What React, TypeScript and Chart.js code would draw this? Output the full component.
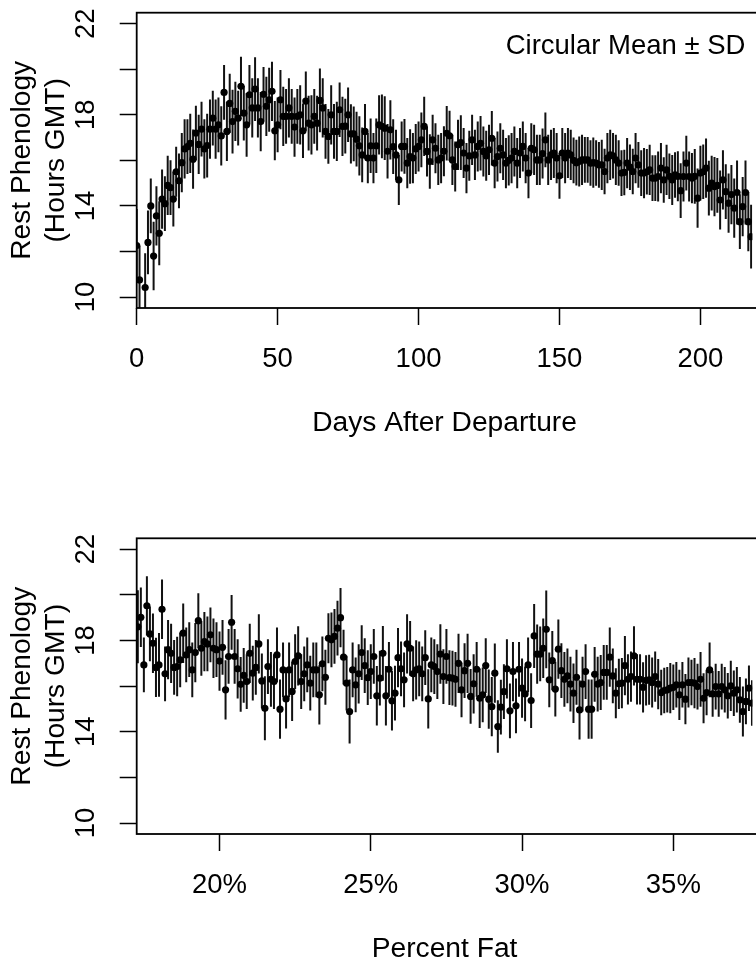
import React, { useEffect, useRef } from 'react';
import { Chart, registerables } from 'chart.js';
Chart.register(...registerables);

const FONT = '"Liberation Sans", Arial, Helvetica, sans-serif';
const FS = 27.5;
const FS_TITLE = 28.2;

// Top panel: circular mean rest time by day after departure (index = day)
const dayMeans: (number | null)[] = [
  12.26, 10.75, null, 10.42, 12.4, 14.0, 11.8, 13.56, 12.8, 14.3,
  14.1, 14.9, 14.8, 14.3, 15.5, 15.1, 15.9, 16.5, 16.6, 16.75,
  16.05, 17.2, 16.7, 17.37, 16.5, 16.65, 17.37, 17.85, 17.37, 17.56,
  17.07, 18.98, 17.27, 18.5, 17.7, 18.15, 17.85, 19.25, 18.07, 17.56,
  18.88, 18.3, 19.13, 18.3, 17.7, 18.9, 18.37, 18.66, 19.03, 17.3,
  17.56, 18.66, 17.93, 17.93, 18.3, 17.93, 17.46, 17.93, 18.0, 17.3,
  18.6, 17.63, 17.56, 17.93, 17.63, 18.63, 18.3, 17.27, 17.05, 18.0,
  17.27, 17.27, 18.22, 17.49, 17.5, 18.0, 17.16, 17.16, 16.93, 16.64,
  16.24, 17.27, 16.1, 16.64, 16.1, 16.64, 17.56, 17.49, 17.41, 16.4,
  17.34, 16.6, 16.24, 15.14, 16.61, 16.61, 15.88, 16.17, 16.1, 16.5,
  16.61, 16.9, 17.49, 16.39, 15.95, 16.9, 16.53, 16.02, 16.1, 16.4,
  17.19, 17.08, 16.02, 15.73, 16.68, 16.78, 16.32, 15.66, 16.2, 16.9,
  16.24, 16.61, 16.75, 16.39, 16.2, 16.46, 16.97, 15.88, 16.17, 16.53,
  16.24, 15.88, 16.0, 16.1, 16.39, 15.88, 16.32, 16.61, 16.1, 15.44,
  16.53, 16.46, 16.02, 16.02, 16.3, 16.9, 16.02, 16.24, 16.32, 16.1,
  15.32, 16.32, 16.1, 16.32, 16.24, 16.0, 15.9, 15.95, 16.02, 16.02,
  16.02, 15.88, 15.9, 15.88, 15.8, 15.8, 15.51, 16.1, 16.24, 16.2,
  16.02, 15.88, 15.44, 15.47, 15.88, 15.7, 15.51, 16.1, 15.8, 15.44,
  15.44, 15.5, 15.58, 15.22, 15.22, 15.29, 15.66, 15.14, 15.58, 15.3,
  15.14, 15.36, 15.3, 14.67, 15.29, 15.88, 15.29, 15.22, 15.3, 14.34,
  15.44, 15.5, 15.66, 14.78, 15.0, 14.85, 14.9, 14.26, 15.14, 14.63,
  14.12, 14.5, 13.9, 14.59, 13.31, 13.97, 14.59, 13.31, 12.65,
];
const daySDs: number[] = [
  1.6, 1.5, 1.4, 1.5, 1.4, 1.2, 1.5, 1.3, 1.4, 1.3,
  1.2, 1.3, 1.2, 1.2, 1.1, 1.2, 1.3, 1.3, 1.2, 1.3,
  1.3, 1.2, 1.3, 1.2, 1.3, 1.4, 1.3, 1.2, 1.3, 1.2,
  1.3, 1.2, 1.3, 1.3, 1.4, 1.3, 1.2, 1.3, 1.2, 1.4,
  1.3, 1.3, 1.4, 1.3, 1.3, 1.2, 1.3, 1.4, 1.3, 1.3,
  1.2, 1.3, 1.3, 1.2, 1.3, 1.2, 1.3, 1.2, 1.3, 1.2,
  1.3, 1.2, 1.3, 1.2, 1.2, 1.4, 1.3, 1.2, 1.2, 1.3,
  1.2, 1.3, 1.2, 1.3, 1.2, 1.2, 1.3, 1.2, 1.2, 1.3,
  1.2, 1.2, 1.1, 1.2, 1.1, 1.2, 1.3, 1.4, 1.4, 1.2,
  1.3, 1.2, 1.1, 1.1, 1.1, 1.2, 1.1, 1.2, 1.1, 1.1,
  1.1, 1.2, 1.3, 1.1, 1.2, 1.1, 1.1, 1.1, 1.1, 1.1,
  1.2, 1.1, 1.1, 1.1, 1.1, 1.2, 1.1, 1.1, 1.1, 1.1,
  1.1, 1.1, 1.2, 1.1, 1.1, 1.1, 1.2, 1.1, 1.1, 1.1,
  1.1, 1.1, 1.1, 1.1, 1.1, 1.1, 1.1, 1.1, 1.1, 1.1,
  1.1, 1.1, 1.1, 1.1, 1.1, 1.2, 1.1, 1.1, 1.1, 1.1,
  1.0, 1.1, 1.1, 1.1, 1.1, 1.0, 1.0, 1.1, 1.1, 1.0,
  1.0, 1.0, 1.1, 1.0, 1.0, 1.1, 1.0, 1.1, 1.1, 1.0,
  1.1, 1.0, 1.0, 1.0, 1.1, 1.0, 1.0, 1.1, 1.0, 1.0,
  1.1, 1.0, 1.1, 1.0, 1.0, 1.1, 1.1, 1.0, 1.1, 1.0,
  1.1, 1.0, 1.1, 1.2, 1.1, 1.2, 1.1, 1.1, 1.2, 1.3,
  1.2, 1.2, 1.3, 1.2, 1.2, 1.3, 1.2, 1.3, 1.3, 1.2,
  1.3, 1.3, 1.3, 1.4, 1.2, 1.3, 1.4, 1.3, 1.4,
];

// Bottom panel: by percent fat, from 17.3% in steps of 0.1%
const FAT_START = 17.3;
const FAT_STEP = 0.1;
const fatMeans: number[] = [
  18.6, 19.02, 16.93, 19.52, 18.29, 17.88, 16.82, 16.93, 19.37, 16.54,
  17.6, 17.44, 16.82, 16.86, 17.15, 18.32, 17.37, 17.6, 16.71, 17.47,
  18.87, 17.66, 17.95, 17.85, 18.25, 17.66, 17.6, 17.1, 17.7, 15.84,
  17.3, 18.8, 17.3, 16.76, 16.08, 16.47, 16.2, 17.44, 16.57, 16.82,
  17.85, 16.23, 15.03, 16.86, 16.3, 16.2, 17.37, 14.99, 16.71, 15.44,
  16.71, 15.77, 17.08, 17.33, 16.2, 16.54, 16.93, 16.13, 16.71, 16.71,
  15.62, 16.98, 16.39, 18.1, 18.03, 18.18, 18.54, 19.0, 17.27, 16.13,
  14.89, 16.71, 16.06, 16.54, 17.47, 16.9, 16.37, 16.64, 17.3, 15.58,
  16.35, 17.44, 15.58, 16.74, 15.36, 15.69, 17.25, 16.76, 16.28, 17.85,
  17.66, 16.54, 16.71, 16.76, 16.54, 17.25, 15.44, 16.93, 16.86, 16.64,
  17.41, 16.42, 17.3, 16.37, 16.35, 16.3, 17.0, 15.84, 16.68, 17.0,
  15.55, 16.1, 16.74, 15.47, 15.62, 16.9, 15.43, 15.1, 16.57, 14.23,
  15.08, 15.76, 16.76, 14.92, 16.64, 15.14, 16.74, 15.91, 15.66, 16.93,
  15.37, 18.2, 17.4, 17.41, 17.66, 18.49, 16.28, 17.12, 15.87, 17.62,
  16.68, 16.3, 16.45, 16.09, 15.69, 16.39, 14.96, 16.09, 16.64, 14.99,
  14.99, 16.52, 16.09, 16.16, 16.6, 16.6, 17.27, 16.45, 15.69, 16.1,
  16.13, 16.9, 16.3, 16.42, 17.33, 16.3, 16.3, 15.95, 16.25, 16.28,
  16.16, 16.42, 16.09, 15.72, 15.81, 15.84, 15.91, 15.95, 16.06, 15.62,
  16.06, 15.43, 16.16, 16.16, 16.13, 15.98, 16.3, 15.47, 15.72, 16.71,
  15.66, 15.98, 15.66, 15.98, 15.84, 15.58, 16.01, 15.69, 15.84, 15.4,
  14.89, 15.33, 15.91, 15.26,
];
const fatSDs: number[] = [
  1.6, 1.3, 1.2, 1.3, 1.2, 1.3, 1.3, 1.4, 1.3, 1.2,
  1.3, 1.3, 1.2, 1.3, 1.2, 1.3, 1.2, 1.2, 1.2, 1.3,
  1.2, 1.2, 1.3, 1.2, 1.2, 1.3, 1.2, 1.3, 1.2, 1.3,
  1.2, 1.2, 1.2, 1.3, 1.2, 1.2, 1.2, 1.3, 1.2, 1.2,
  1.3, 1.2, 1.4, 1.2, 1.2, 1.2, 1.2, 1.3, 1.2, 1.3,
  1.2, 1.3, 1.2, 1.3, 1.2, 1.2, 1.2, 1.2, 1.2, 1.2,
  1.3, 1.2, 1.2, 1.1, 1.2, 1.2, 1.2, 1.3, 1.2, 1.2,
  1.4, 1.2, 1.2, 1.3, 1.2, 1.2, 1.2, 1.2, 1.2, 1.3,
  1.2, 1.2, 1.3, 1.2, 1.3, 1.2, 1.3, 1.2, 1.2, 1.3,
  1.2, 1.2, 1.3, 1.2, 1.2, 1.2, 1.3, 1.2, 1.2, 1.2,
  1.3, 1.2, 1.2, 1.2, 1.2, 1.2, 1.3, 1.2, 1.2, 1.3,
  1.2, 1.3, 1.2, 1.3, 1.2, 1.2, 1.3, 1.3, 1.3, 1.15,
  1.2, 1.2, 1.3, 1.2, 1.3, 1.2, 1.2, 1.3, 1.2, 1.2,
  1.2, 1.4, 1.3, 1.2, 1.3, 1.7, 1.2, 1.3, 1.2, 1.3,
  1.2, 1.2, 1.2, 1.2, 1.3, 1.2, 1.3, 1.2, 1.2, 1.3,
  1.3, 1.2, 1.2, 1.2, 1.2, 1.2, 1.3, 1.2, 1.1, 1.1,
  1.1, 1.3, 1.1, 1.1, 1.3, 1.1, 1.1, 1.1, 1.1, 1.1,
  1.1, 1.1, 1.1, 1.0, 1.0, 1.0, 1.1, 1.0, 1.0, 1.1,
  1.0, 1.1, 1.1, 1.0, 1.1, 1.0, 1.2, 1.1, 1.0, 1.2,
  1.0, 1.0, 1.0, 1.0, 1.0, 1.0, 1.1, 1.0, 1.0, 1.0,
  1.1, 1.0, 1.0, 1.0,
];

const Y_TICK_LABELS = [10, 14, 18, 22];
const Y_MIN = 9.52;
const Y_MAX = 22.48;
const Y_TITLE = ['Rest Phenology', '(Hours GMT)'];

const dayPoints = dayMeans.map((m, i) => ({ x: i, y: m }));
const fatPoints = fatMeans.map((m, i) => ({ x: Math.round((FAT_START + i * FAT_STEP) * 10) / 10, y: m }));

const errorBarPlugin = {
  id: 'errorBars',
  beforeDatasetsDraw(chart: any, _args: any, opts: any) {
    const { ctx, chartArea, scales } = chart;
    const xs = scales.x, ys = scales.y;
    const pts = chart.data.datasets[0].data;
    const sds: number[] = opts.sds || [];
    ctx.save();
    ctx.beginPath();
    ctx.rect(chartArea.left, chartArea.top, chartArea.right - chartArea.left, chartArea.bottom - chartArea.top);
    ctx.clip();
    ctx.strokeStyle = '#111';
    ctx.lineWidth = 2;
    pts.forEach((p: any, i: number) => {
      if (p.y == null) return;
      const px = xs.getPixelForValue(p.x);
      ctx.beginPath();
      ctx.moveTo(px, ys.getPixelForValue(p.y + sds[i]));
      ctx.lineTo(px, ys.getPixelForValue(p.y - sds[i]));
      ctx.stroke();
    });
    ctx.restore();
  },
};

const framePlugin = {
  id: 'frame',
  afterDatasetsDraw(chart: any, _args: any, opts: any) {
    const { ctx, chartArea } = chart;
    ctx.save();
    ctx.strokeStyle = '#000';
    ctx.lineWidth = 1.8;
    ctx.strokeRect(chartArea.left, chartArea.top, chartArea.right - chartArea.left + 20, chartArea.bottom - chartArea.top);
    if (opts && opts.note) {
      ctx.fillStyle = '#000';
      ctx.font = `${FS}px ${FONT}`;
      ctx.textAlign = 'right';
      ctx.textBaseline = 'middle';
      ctx.fillText(opts.note, chartArea.right - 7, chartArea.top + 34);
    }
    ctx.restore();
  },
};

function buildConfig(points: any[], sds: number[], xMin: number, xMax: number, xStep: number,
  fmt: (v: number) => string, xTitle: string, padTop: number, padBottom: number, note?: string): any {
  const font = { family: FONT, size: FS };
  const titleFont = { family: FONT, size: FS_TITLE };
  const tickGrid = { drawOnChartArea: false, drawTicks: true, tickLength: 17, tickColor: '#000', tickWidth: 1.5 };
  return {
    type: 'scatter',
    data: {
      datasets: [{
        data: points,
        pointRadius: 3.6,
        pointHoverRadius: 3.6,
        pointBackgroundColor: '#000',
        pointBorderWidth: 0,
        showLine: false,
        clip: 0,
      }],
    },
    options: {
      animation: false,
      responsive: false,
      maintainAspectRatio: false,
      events: [],
      layout: { padding: { left: 0, right: 0, top: padTop, bottom: padBottom } },
      plugins: {
        legend: { display: false },
        tooltip: { enabled: false },
        errorBars: { sds },
        frame: { note },
      },
      scales: {
        x: {
          type: 'linear',
          position: 'bottom',
          min: xMin,
          max: xMax,
          afterFit: (s: any) => { s.height = 132.5; s.paddingLeft = 0; s.paddingRight = 0; },
          grid: tickGrid,
          border: { display: false },
          ticks: {
            stepSize: xStep, includeBounds: false, autoSkip: false, maxRotation: 0, minRotation: 0,
            padding: 18.3, color: '#000', font,
            callback: (v: number) => fmt(v),
          },
          title: { display: true, text: xTitle, color: '#000', font: titleFont, padding: 0 },
        },
        y: {
          type: 'linear',
          min: Y_MIN,
          max: Y_MAX,
          afterFit: (s: any) => { s.width = 136.7; s.paddingTop = 0; s.paddingBottom = 0; },
          grid: tickGrid,
          border: { display: false },
          ticks: {
            stepSize: 2, includeBounds: false, autoSkip: false, minRotation: 90, maxRotation: 90,
            crossAlign: 'center', padding: 17.5, color: '#000', font,
            callback: (v: number) => (Y_TICK_LABELS.includes(v) ? String(v) : ''),
          },
          title: { display: true, text: Y_TITLE, color: '#000', font: titleFont, padding: { top: 5.5, bottom: 0 } },
        },
      },
    },
    plugins: [errorBarPlugin, framePlugin],
  };
}

export default function App() {
  const topRef = useRef<HTMLCanvasElement>(null);
  const botRef = useRef<HTMLCanvasElement>(null);

  useEffect(() => {
    const top = new Chart(topRef.current as HTMLCanvasElement, buildConfig(
      dayPoints, daySDs, 0, 218.45, 50, (v) => String(v), 'Days After Departure', 12.7, 29.5, 'Circular Mean \u00B1 SD'));
    const bot = new Chart(botRef.current as HTMLCanvasElement, buildConfig(
      fatPoints, fatSDs, 17.263, 37.614, 5, (v) => `${v}%`, 'Percent Fat', 68.3, 0.5));
    return () => { top.destroy(); bot.destroy(); };
  }, []);

  return (
    <div style={{ position: 'absolute', left: 0, top: 0, width: 756, height: 967, background: '#fff', overflow: 'hidden' }}>
      <canvas ref={topRef} width={756} height={470} style={{ display: 'block', width: 756, height: 470 }} />
      <canvas ref={botRef} width={756} height={497} style={{ display: 'block', width: 756, height: 497 }} />
    </div>
  );
}
